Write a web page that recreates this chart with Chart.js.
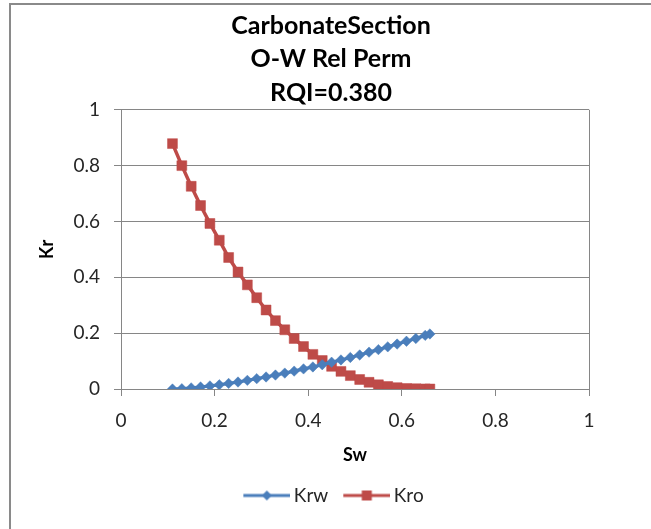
<!DOCTYPE html>
<html>
<head>
<meta charset="utf-8">
<title>CarbonateSection O-W Rel Perm</title>
<script src="https://cdn.jsdelivr.net/npm/chart.js@4.4.1/dist/chart.umd.min.js"></script>
<style>
  html, body { margin: 0; padding: 0; background: #fff; overflow: hidden; }
  #frame { position: absolute; left: 9px; top: 3px; width: 700px; height: 600px; border: 2px solid #8a8a8a; box-sizing: border-box; }
  #chart { position: absolute; left: 0; top: 0; }
</style>
</head>
<body>
<div id="frame"></div>
<canvas id="chart" width="651" height="529"></canvas>
<script>
// Water saturation (fraction)
const sw = [0.11, 0.13, 0.15, 0.17, 0.19, 0.21, 0.23, 0.25, 0.27, 0.29,
            0.31, 0.33, 0.35, 0.37, 0.39, 0.41, 0.43, 0.45, 0.47, 0.49,
            0.51, 0.53, 0.55, 0.57, 0.59, 0.61, 0.63, 0.65, 0.66];

// Water relative permeability
const krw = [0, 0.001, 0.004, 0.007, 0.011, 0.015, 0.020, 0.025, 0.031, 0.037,
             0.043, 0.050, 0.057, 0.064, 0.072, 0.079, 0.087, 0.096, 0.104, 0.113,
             0.122, 0.132, 0.141, 0.151, 0.161, 0.171, 0.181, 0.192, 0.197];

// Oil relative permeability
const kro = [0.879, 0.800, 0.726, 0.657, 0.593, 0.533, 0.471, 0.419, 0.373, 0.327,
             0.283, 0.245, 0.212, 0.181, 0.152, 0.124, 0.102, 0.081, 0.063, 0.048,
             0.034, 0.024, 0.015, 0.009, 0.005, 0.002, 0.001, 0.0003, 0];

const titleLines = ['CarbonateSection', 'O-W Rel Perm', 'RQI=0.380'];
const seriesNames = ['Krw', 'Kro'];
const axisTicks = [0, 0.2, 0.4, 0.6, 0.8, 1];
const axisTickLabels = ['0', '0.2', '0.4', '0.6', '0.8', '1'];

const BLUE = '#4A7EBB';
const RED = '#BE4B48';
const GRID = '#868686';
const TEXT = '#262626';
const FONT = 'Lato';

// Legend swatch: a short line segment with the series marker in its middle
function legendSwatch(color, marker) {
  const c = document.createElement('canvas');
  c.width = 58; c.height = 14;
  const g = c.getContext('2d');
  g.strokeStyle = color;
  g.lineWidth = 3;
  g.beginPath();
  g.moveTo(11, 7);
  g.lineTo(58, 7);
  g.stroke();
  g.fillStyle = color;
  const cx = 11 + 47 / 2;
  if (marker === 'diamond') {
    g.beginPath();
    g.moveTo(cx, 2); g.lineTo(cx + 5, 7); g.lineTo(cx, 12); g.lineTo(cx - 5, 7);
    g.closePath(); g.fill();
  } else {
    g.fillRect(cx - 5, 2, 10, 10);
  }
  return c;
}

const swatches = [legendSwatch(BLUE, 'diamond'), legendSwatch(RED, 'square')];

const toPoints = ys => sw.map((x, i) => ({ x: x, y: ys[i] }));

const tickSetup = s => { s.ticks = axisTicks.map(v => ({ value: v })); };
const tickLabel = v => {
  const i = axisTicks.indexOf(v);
  return i >= 0 ? axisTickLabels[i] : '';
};

new Chart(document.getElementById('chart'), {
  type: 'line',
  data: {
    datasets: [
      {
        label: seriesNames[0],
        data: toPoints(krw),
        yAxisID: 'y',
        borderColor: BLUE,
        backgroundColor: BLUE,
        borderWidth: 3.2,
        pointStyle: 'rectRot',
        pointRadius: 5.2,
        pointBorderWidth: 0.5,
        pointBackgroundColor: BLUE,
        pointBorderColor: BLUE,
        tension: 0
      },
      {
        label: seriesNames[1],
        data: toPoints(kro),
        yAxisID: 'y',
        borderColor: RED,
        backgroundColor: RED,
        borderWidth: 3.5,
        pointStyle: 'rect',
        pointRadius: 7,
        pointBorderWidth: 0.5,
        pointBackgroundColor: RED,
        pointBorderColor: RED,
        tension: 0
      }
    ]
  },
  options: {
    responsive: false,
    animation: false,
    devicePixelRatio: 1,
    layout: { padding: { left: 11, right: 0, top: 0, bottom: 14 } },
    scales: {
      x: {
        type: 'linear',
        min: 0,
        max: 1,
        afterBuildTicks: tickSetup,
        afterFit: s => { s.height = 87; },
        border: { display: true, color: GRID, width: 1 },
        grid: {
          drawOnChartArea: true,
          drawTicks: true,
          tickLength: 7,
          tickColor: GRID,
          color: ctx => (ctx.tick && ctx.tick.value === 1) ? GRID : 'rgba(0,0,0,0)',
          lineWidth: 1
        },
        ticks: {
          padding: 13,
          color: TEXT,
          font: { family: FONT, size: 19 },
          maxRotation: 0,
          autoSkip: false,
          callback: tickLabel
        },
        title: {
          display: true,
          text: 'Sw',
          color: '#000',
          font: { family: FONT, size: 18, weight: 'bold' },
          padding: { top: 0, bottom: 10 }
        }
      },
      y: {
        type: 'linear',
        position: 'left',
        min: 0,
        max: 1,
        afterBuildTicks: tickSetup,
        afterFit: s => { s.width = 110; },
        border: { display: true, color: GRID, width: 1 },
        grid: {
          drawOnChartArea: true,
          drawTicks: true,
          tickLength: 7,
          tickColor: GRID,
          color: GRID,
          lineWidth: 1
        },
        ticks: {
          padding: 14,
          color: TEXT,
          font: { family: FONT, size: 19 },
          autoSkip: false,
          callback: tickLabel
        },
        title: {
          display: true,
          text: 'Kr',
          color: '#000',
          font: { family: FONT, size: 18, weight: 'bold' },
          padding: { top: 25, bottom: 0 }
        }
      },
      yRight: {
        type: 'linear',
        position: 'right',
        display: true,
        min: 0,
        max: 1,
        afterFit: s => { s.width = 62; },
        border: { display: false },
        grid: { display: false, drawTicks: false },
        ticks: { display: false }
      }
    },
    plugins: {
      title: {
        display: true,
        text: titleLines,
        color: '#000',
        font: { family: FONT, size: 25, weight: 'bold', lineHeight: 1.344 },
        padding: { top: 9, bottom: 0 }
      },
      legend: {
        display: true,
        position: 'bottom',
        labels: {
          usePointStyle: true,
          pointStyleWidth: 46,
          padding: 10,
          color: TEXT,
          font: { family: FONT, size: 19 },
          generateLabels: chart => chart.data.datasets.map((ds, i) => ({
            text: ds.label,
            pointStyle: swatches[i],
            fillStyle: ds.borderColor,
            strokeStyle: ds.borderColor,
            lineWidth: 0,
            fontColor: TEXT,
            hidden: !chart.isDatasetVisible(i),
            datasetIndex: i
          }))
        }
      },
      tooltip: { enabled: false }
    }
  }
});
</script>
</body>
</html>
